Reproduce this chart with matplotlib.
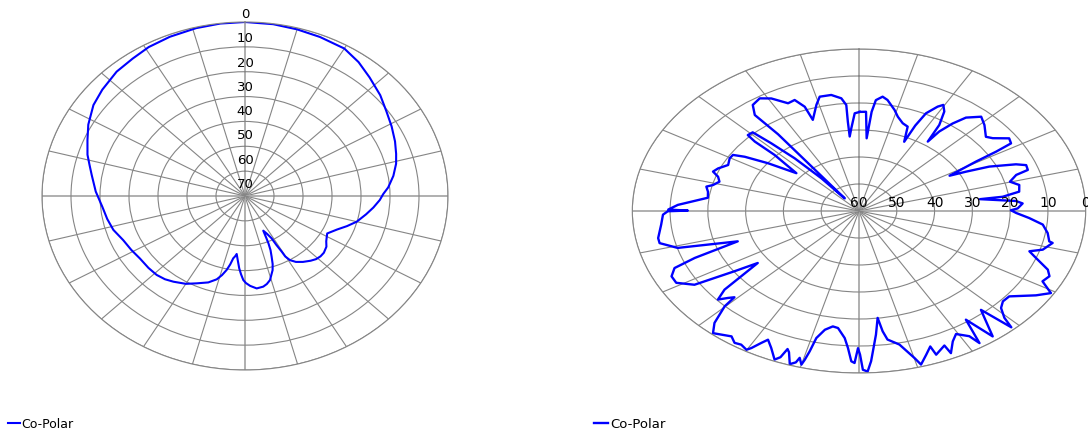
import numpy as np
import matplotlib
matplotlib.use("Agg")
import matplotlib.pyplot as plt
from matplotlib.transforms import offset_copy

# ---- data -------------------------------------------------------------
# Angles in degrees, clockwise from the top; levels in dB below the peak.
left_angle = [0, 8, 15, 22, 30, 36, 42, 49, 55, 61, 67, 72, 76, 81, 86, 89, 92,
              96, 100, 105, 109, 113, 118, 120.5, 123, 126, 130, 133, 136, 139,
              143, 146.5, 149, 150.3, 150.5, 151.2, 151.7, 153.5, 155.7, 156.5,
              157, 158, 159.4, 160.8, 162.3, 165.7, 168, 170.2, 173.8, 177.2,
              179.5, 181, 182.5, 183.9, 185.5, 187, 188, 189.2, 190.5, 192, 194,
              196.2, 200, 205.4, 210, 215.6, 219.5, 223.8, 229, 235.2, 241,
              247.1, 253.3, 259, 265, 272, 279, 283, 287, 292.5, 298, 305, 311,
              318.5, 325, 331, 338, 346, 353, 360]
left_level = [0.0, 0.2, 0.6, 1.0, 1.5, 3.4, 5.8, 8.2, 10.5, 12.2, 13.8, 15.2,
              16.3, 18.2, 20.5, 22.3, 23.5, 25.5, 27.6, 30.1, 32.8, 35.5, 37.9,
              37.3, 36.6, 35.3, 34.5, 34.4, 34.7, 35.5, 36.8, 38.2, 39.9, 42.0,
              44.3, 47.5, 50.7, 53.0, 54.7, 51.5, 49.3, 46.5, 43.9, 41.0, 38.7,
              35.1, 33.8, 33.0, 32.6, 33.8, 35.0, 36.2, 38.5, 40.8, 44.0, 46.5,
              45.5, 44.6, 42.0, 39.6, 37.2, 35.1, 33.0, 31.1, 29.2, 27.6, 26.6,
              26.0, 25.9, 25.9, 25.2, 24.4, 22.6, 21.6, 20.6, 18.5, 16.5, 15.0,
              13.2, 11.2, 8.8, 6.2, 4.8, 3.2, 2.5, 1.5, 0.9, 0.4, 0.1, 0.0]

right_angle = [0.3, 2.9, 4.3, 5.2, 6.2, 8.4, 10.4, 14.1, 16.4, 19.6, 22.4, 25.0,
               25.2, 26.1, 28.3, 29.6, 31.5, 33.7, 35.3, 35.8, 37.4, 39.3, 42.8,
               46.2, 50.7, 52.7, 55.9, 58.1, 58.8, 59.4, 61.4, 62.8, 64.5, 67.4,
               69.0, 71.2, 72.2, 74.8, 77.2, 80.4, 82.1, 82.2, 83.6, 84.9, 86.3,
               88.7, 89.6, 91.0, 93.3, 95.9, 99.3, 102.6, 103.0, 106.4, 108.3,
               110.4, 113.5, 115.6, 118.2, 120.9, 123.7, 128.5, 131.3, 133.7,
               135.8, 136.9, 138.6, 142.7, 144.9, 146.9, 147.8, 150.6, 152.8,
               155.2, 155.6, 159.0, 159.4, 161.5, 163.9, 164.9, 167.8, 171.0,
               172.0, 172.9, 174.4, 176.7, 177.8, 179.0, 179.7, 180.3, 181.2,
               182.1, 183.3, 184.6, 187.3, 189.2, 191.6, 193.5, 194.1, 194.6,
               195.0, 196.1, 196.6, 197.9, 199.5, 200.3, 201.0, 202.1, 204.6,
               206.8, 207.9, 209.3, 210.1, 212.2, 214.0, 216.0, 220.5, 222.7,
               225.2, 225.9, 227.1, 228.7, 230.7, 234.3, 235.9, 237.9, 241.2,
               244.0, 246.6, 248.2, 250.7, 252.7, 254.1, 257.3, 259.3, 264.5,
               268.5, 269.9, 270.2, 270.6, 272.7, 274.9, 277.0, 280.1, 282.6,
               284.0, 286.4, 288.8, 290.7, 292.9, 296.2, 299.7, 301.9, 303.6,
               306.3, 310.2, 312.9, 313.0, 313.7, 316.0, 317.2, 318.9, 320.6,
               321.0, 322.8, 323.0, 322.2, 324.4, 327.8, 330.9, 334.8, 337.5,
               339.6, 340.1, 344.0, 346.2, 350.3, 353.6, 355.1, 354.9, 354.9,
               356.2, 358.2, 360.3]
right_level = [23.3, 23.2, 33.0, 23.1, 18.7, 17.2, 18.2, 21.4, 23.6, 25.5, 26.2,
               31.7, 25.0, 19.7, 16.1, 14.8, 16.8, 21.7, 28.5, 23.7, 19.2, 15.3,
               12.4, 14.0, 16.6, 15.5, 12.0, 12.6, 17.6, 24.0, 32.7, 28.1, 21.8,
               15.0, 12.6, 12.8, 16.3, 18.6, 16.5, 17.0, 21.6, 27.7, 23.5, 18.3,
               16.6, 18.0, 19.8, 18.4, 14.9, 11.1, 9.4, 8.4, 7.4, 9.3, 12.5, 10.0,
               5.5, 4.1, 4.9, 0.8, 3.7, 9.2, 9.3, 8.0, 4.8, 1.0, 11.2, 1.6, 10.8,
               1.6, 5.2, 7.7, 5.7, 2.0, 5.3, 3.0, 6.4, 3.9, 0.8, 3.6, 9.4, 11.8,
               15.0, 20.1, 14.0, 4.3, 0.5, 1.2, 6.8, 9.2, 3.7, 4.3, 9.2, 12.8,
               16.3, 16.7, 15.1, 11.6, 6.4, 3.1, 1.1, 3.4, 1.5, 0.4, 4.5, 5.5, 2.0,
               0.6, 4.2, 6.6, 4.7, 1.8, 0.6, 1.5, 1.1, 2.6, 0.5, 3.6, 9.9, 14.1,
               12.7, 10.3, 14.0, 27.0, 20.2, 8.6, 4.8, 4.8, 6.8, 13.2, 26.0, 18.1,
               10.1, 5.9, 5.9, 7.4, 8.1, 9.4, 14.7, 9.5, 12.0, 16.3, 19.7, 19.4,
               18.6, 20.2, 21.5, 20.6, 18.7, 19.5, 21.4, 20.6, 20.7, 23.7, 30.1,
               38.3, 29.5, 22.3, 19.3, 19.5, 25.8, 34.1, 44.3, 54.0, 34.8, 24.4,
               15.0, 11.7, 10.7, 12.3, 15.9, 15.5, 18.8, 24.1, 19.1, 16.4, 16.4,
               18.0, 20.6, 26.8, 32.3, 29.3, 23.8, 23.3]

left_rings = [0, 10, 20, 30, 40, 50, 60, 70]
right_rings = [0, 10, 20, 30, 40, 50, 60]
series_name = "Co-Polar"

# ---- style ------------------------------------------------------------
BLUE = "#0000ff"
GRID = "#858585"
CROSS = "#a9a9a9"
W, H = 1088, 433

fig = plt.figure(figsize=(W / 100, H / 100), dpi=100)
fig.patch.set_facecolor("white")


def polar_panel(center, semi, angles, levels, rings, label_angle, label_fs,
                label_lift, lw):
    cx, cy = center
    a, b = semi
    rect = [(cx - a) / W, (H - cy - b) / H, 2 * a / W, 2 * b / H]
    ax = fig.add_axes(rect, projection="polar")
    ax.set_aspect("auto")
    ax.set_theta_zero_location("N")
    ax.set_theta_direction(-1)
    ax.set_ylim(rings[-1], rings[0])
    ax.set_xticks(np.deg2rad(np.arange(0, 360, 15)))
    ax.set_xticklabels([])
    ax.set_yticks(rings[:-1])
    ax.set_yticklabels([])
    ax.tick_params(length=0)
    ax.grid(True, color=GRID, linewidth=0.8)
    for i, gl in enumerate(ax.xaxis.get_gridlines()):
        if i % 6 == 0:
            gl.set_color(CROSS)
            gl.set_linewidth(1.3)
    ax.spines["polar"].set_color(GRID)
    ax.spines["polar"].set_linewidth(0.8)

    line, = ax.plot(np.deg2rad(angles), levels, color=BLUE, lw=lw,
                    solid_joinstyle="round")

    for k, v in enumerate(rings):
        tr = offset_copy(ax.transData, fig=fig, x=0, y=label_lift(k), units="dots")
        ax.text(np.deg2rad(label_angle), v, str(v), transform=tr,
                ha="center", va="bottom", fontsize=label_fs,
                family="DejaVu Sans", color="black", clip_on=False, zorder=5)
    return ax, line


ax1, line1 = polar_panel((245, 196), (203, 174), left_angle, left_level,
                         left_rings, 0, 9.5, lambda k: 1 + 0.6 * k, 1.5)
ax2, line2 = polar_panel((859, 211), (226.7, 162), right_angle, right_level,
                         right_rings, 90, 10, lambda k: 1, 1.7)

ax1.legend([line1], [series_name], loc="center left",
           bbox_to_anchor=(8.3 / W, 8.7 / H), bbox_transform=fig.transFigure,
           frameon=False, borderpad=0, borderaxespad=0, handlelength=0.94,
           handletextpad=0.08, prop={"family": "DejaVu Sans", "size": 9})
ax2.legend([line2], [series_name], loc="center left",
           bbox_to_anchor=(594.3 / W, 8.7 / H), bbox_transform=fig.transFigure,
           frameon=False, borderpad=0, borderaxespad=0, handlelength=1.06,
           handletextpad=0.13, prop={"family": "DejaVu Sans", "size": 9.5})

fig.savefig("out.png", dpi=100, facecolor="white")
